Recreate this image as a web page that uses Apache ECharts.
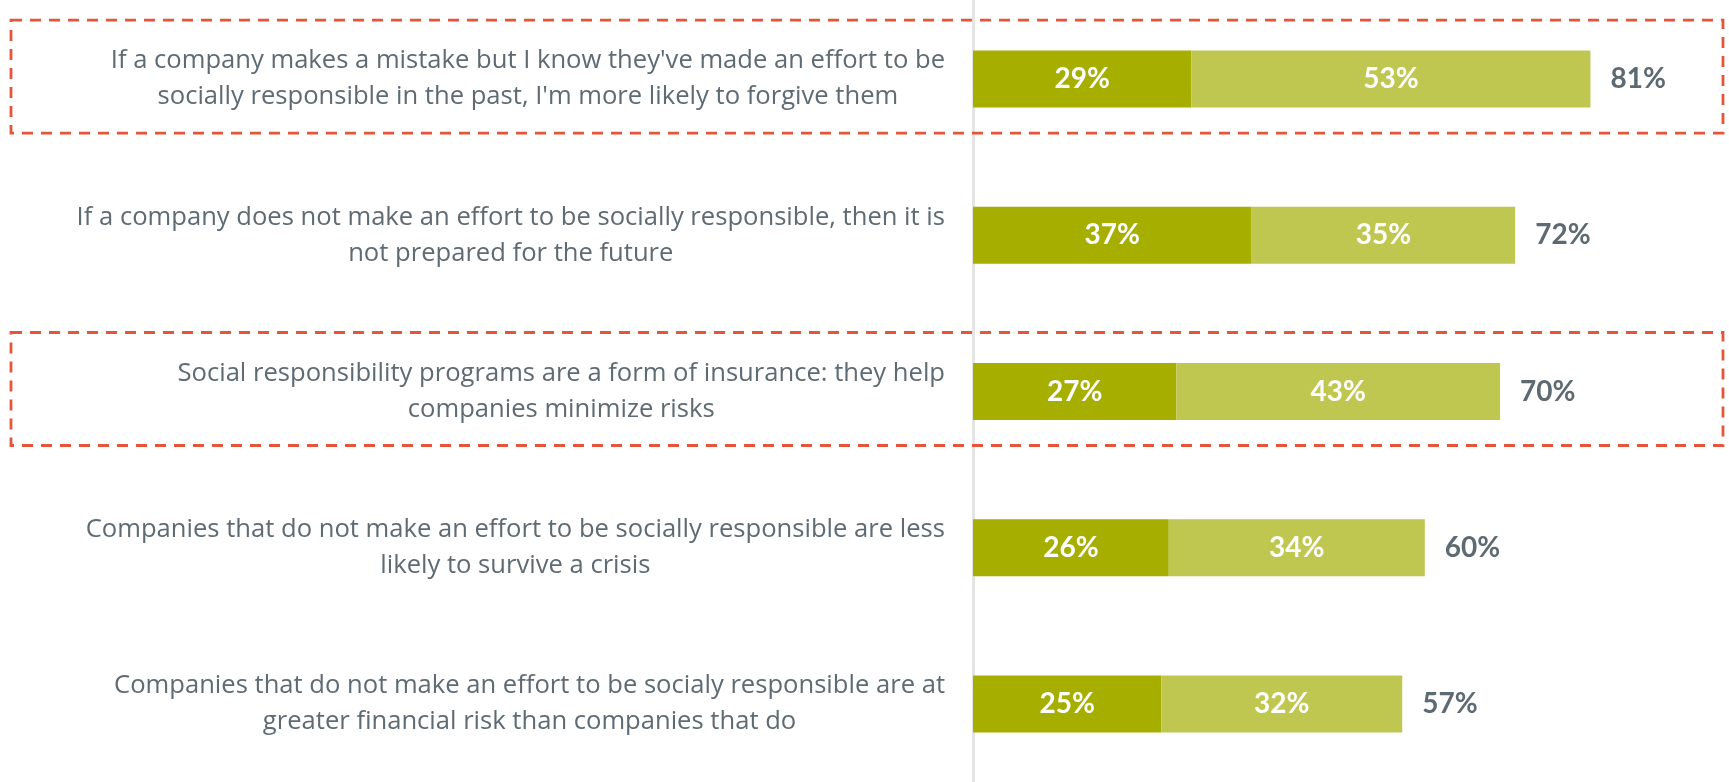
<!DOCTYPE html>
<html>
<head>
<meta charset="utf-8">
<style>
  html, body { margin: 0; padding: 0; background: #ffffff; }
  #chart { width: 1729px; height: 782px; }
</style>
<script src="https://cdn.jsdelivr.net/npm/echarts@6/dist/echarts.min.js"></script>
</head>
<body>
<div id="chart"></div>
<script>
// Statements, one per row (line breaks as set in the layout)
const statements = [
  "If a company makes a mistake but I know they've made an effort to be\nsocially responsible in the past, I'm more likely to forgive them",
  "If a company does not make an effort to be socially responsible, then it is\nnot prepared for the future",
  "Social responsibility programs are a form of insurance: they help\ncompanies minimize risks",
  "Companies that do not make an effort to be socially responsible are less\nlikely to survive a crisis",
  "Companies that do not make an effort to be socialy responsible are at\ngreater financial risk than companies that do"
];
// Strongly agree / somewhat agree shares (%)
const stronglyAgree = [29, 37, 27, 26, 25];
const somewhatAgree = [53, 35, 43, 34, 32];
// Reported total agreement (%)
const totalAgree = [81, 72, 70, 60, 57];
// Rows outlined with a dashed frame
const outlinedRows = [0, 2];

const TEXT_FONT = '"Open Sans", Lato, sans-serif';
const NUM_FONT = 'Lato, "Open Sans", sans-serif';
const DARK = '#A6AE00';
const LIGHT = '#C0C751';
const GREY = '#5E6A72';

const chart = echarts.init(document.getElementById('chart'), null, { renderer: 'canvas' });

const innerLabel = {
  show: true,
  position: 'inside',
  color: '#ffffff',
  fontFamily: NUM_FONT,
  fontWeight: 'bold',
  fontSize: 28,
  formatter: p => p.value + '%'
};

chart.setOption({
  animation: false,
  backgroundColor: '#ffffff',
  grid: { left: 973, right: 3, top: 1, height: 787, containLabel: false },
  xAxis: {
    type: 'value',
    min: 0,
    max: 100,
    show: false
  },
  yAxis: {
    type: 'category',
    inverse: true,
    data: statements,
    axisTick: { show: false },
    axisLine: { show: true, lineStyle: { color: '#E5E5E5', width: 3 } },
    splitLine: { show: false },
    axisLabel: {
      margin: 28,
      align: 'right',
      color: '#5F6B73',
      fontFamily: TEXT_FONT,
      fontSize: 25.6,
      lineHeight: 36,
      formatter: v => v.split('\n').map(l => '{c|' + l + '}').join('\n'),
      rich: {
        c: { align: 'center', color: '#5F6B73', fontFamily: TEXT_FONT, fontSize: 25.6, lineHeight: 36 }
      }
    }
  },
  series: [
    {
      name: 'Strongly agree',
      type: 'bar',
      stack: 'agree',
      barWidth: 57,
      itemStyle: { color: DARK },
      label: innerLabel,
      data: stronglyAgree
    },
    {
      name: 'Somewhat agree',
      type: 'bar',
      stack: 'agree',
      barWidth: 57,
      itemStyle: { color: LIGHT },
      label: innerLabel,
      data: somewhatAgree
    },
    {
      // zero-length cap that carries the total label at the end of each bar
      name: 'Total',
      type: 'bar',
      stack: 'agree',
      barWidth: 57,
      itemStyle: { color: 'rgba(0,0,0,0)' },
      label: {
        show: true,
        position: 'right',
        distance: 20,
        color: GREY,
        fontFamily: NUM_FONT,
        fontWeight: 'bold',
        fontSize: 28,
        formatter: p => totalAgree[p.dataIndex] + '%'
      },
      data: totalAgree.map(() => 0)
    }
  ]
});

// Dashed frames around the highlighted rows, placed from the category scale
const frames = outlinedRows.map(i => {
  const cy = chart.convertToPixel({ yAxisIndex: 0 }, i);
  return {
    type: 'rect',
    silent: true,
    z: 10,
    shape: { x: 11, y: cy - 59, width: 1712, height: 113 },
    style: {
      fill: 'none',
      stroke: '#E4553A',
      lineWidth: 2.8,
      lineDash: [11, 8]
    }
  };
});
chart.setOption({ graphic: frames });
</script>
</body>
</html>
